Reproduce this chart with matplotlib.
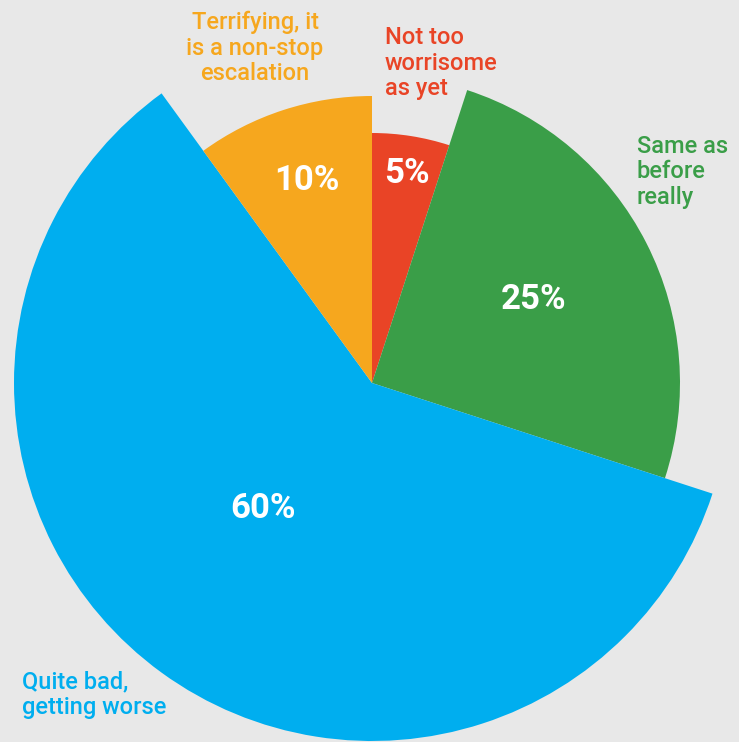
import matplotlib.pyplot as plt
from matplotlib.patches import Wedge
import numpy as np

# slices in clockwise order starting at 12 o'clock
labels = ["Not too\nworrisome\nas yet", "Same as\nbefore\nreally",
          "Quite bad,\ngetting worse", "Terrifying, it\nis a non-stop\nescalation"]
values = [5, 25, 60, 10]
radii = [250, 308, 358, 287]
colors = ["#e94426", "#3a9e48", "#00aeef", "#f6a71e"]
# where the white % labels sit (distance from centre, angle in degrees)
pct_dist = [214, 183, 165, 215]
pct_ang = [80.6, 27.7, 228.7, 107.6]

bg = "#e8e8e8"
fig = plt.figure(figsize=(7.39, 7.42), dpi=100, facecolor=bg)
ax = fig.add_axes([0, 0, 1, 1])
ax.set_facecolor(bg)
ax.set_xlim(0, 739)
ax.set_ylim(0, 742)
ax.set_aspect("equal")
ax.axis("off")

cx, cy = 372, 359
start = 90.0
for v, r, c, d, a in zip(values, radii, colors, pct_dist, pct_ang):
    sweep = v / sum(values) * 360
    end = start - sweep
    ax.add_patch(Wedge((cx, cy), r, end, start, facecolor=c, edgecolor="none"))
    t = np.radians(a)
    ax.text(cx + d * np.cos(t), cy + d * np.sin(t) - 2, f"{v}%", color="white",
            fontsize=25, fontweight="bold", family="Roboto", ha="center", va="center")
    start = end

kw = dict(fontsize=17, fontweight="medium", family="Roboto", linespacing=1.15)
ax.text(385, 679, labels[0], color=colors[0], ha="left", va="center", **kw)
ax.text(637, 570, labels[1], color=colors[1], ha="left", va="center", **kw)
ax.text(22, 47, labels[2], color=colors[2], ha="left", va="center", **kw)
ax.text(255, 694, labels[3], color=colors[3], ha="center", va="center", **kw)

fig.savefig("out.png", dpi=100, facecolor=bg)
